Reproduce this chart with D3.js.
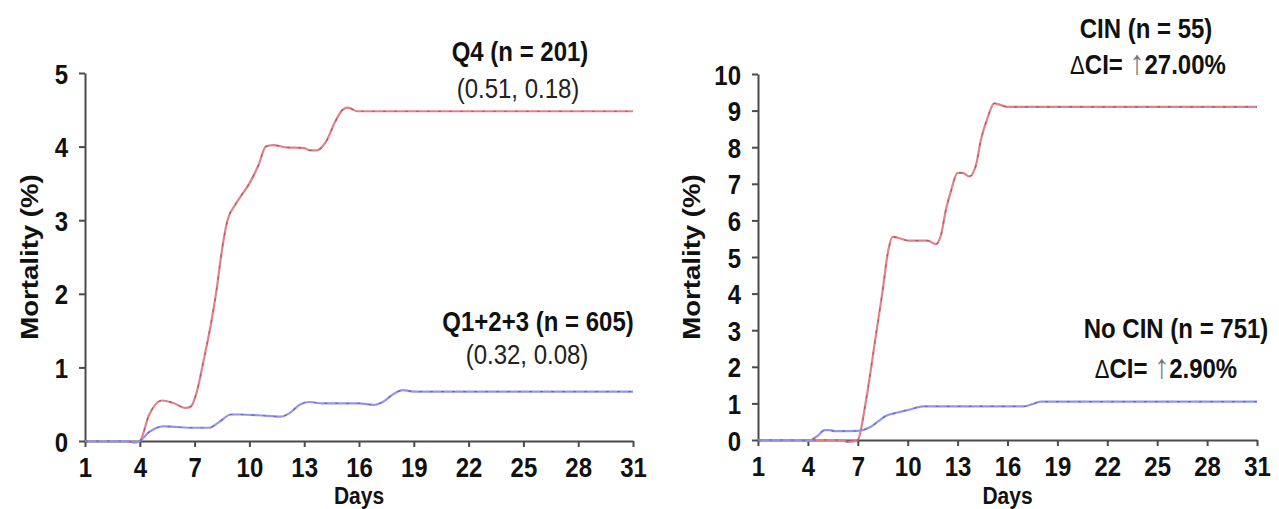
<!DOCTYPE html>
<html>
<head>
<meta charset="utf-8">
<script src="https://cdn.jsdelivr.net/npm/d3@7"></script>
<style>
  body { margin: 0; background: #fff; }
  svg { display: block; font-family: "Liberation Sans", Arial, sans-serif; }
</style>
</head>
<body>
<div id="container"></div>
<script>
// day ticks shared by both panels
const dayTicks = [1, 4, 7, 10, 13, 16, 19, 22, 25, 28, 31];

// left panel: Q4 vs Q1+2+3, points as [day, mortality %]
const q4Series = [
  [1, 0], [3.2, 0], [3.7, -0.02], [4.0, 0], [4.5, 0.35], [5.2, 0.55], [5.8, 0.52],
  [6.5, 0.45], [6.8, 0.47], [7.1, 0.65], [7.5, 1.1], [7.9, 1.6], [8.2, 2.05],
  [8.5, 2.6], [8.8, 3.0], [9.2, 3.2], [9.6, 3.35], [10.0, 3.5], [10.5, 3.75],
  [10.9, 4.0], [11.3, 4.02], [12.0, 3.99], [13.0, 3.98], [13.3, 3.95], [13.7, 3.95],
  [14.2, 4.07], [14.7, 4.34], [15.1, 4.5], [15.4, 4.53], [15.9, 4.48], [17, 4.48], [31, 4.48]
];
const q123Series = [
  [1, 0], [3.3, 0], [3.7, -0.02], [4.0, 0], [4.5, 0.12], [5.3, 0.2], [6.0, 0.19],
  [7.0, 0.18], [7.8, 0.18], [8.3, 0.25], [9.0, 0.36], [9.5, 0.36], [10.5, 0.35],
  [11.7, 0.33], [12.2, 0.38], [12.8, 0.5], [13.3, 0.53], [14.0, 0.51], [16.0, 0.51],
  [16.8, 0.49], [17.3, 0.53], [17.9, 0.64], [18.4, 0.69], [19.0, 0.67], [31, 0.67]
];
const leftYTicks = [0, 1, 2, 3, 4, 5];

// right panel: CIN vs No CIN
const cinSeries = [
  [1, 0], [6.0, 0], [6.4, -0.05], [6.8, -0.04], [7.0, 0], [7.5, 1.1], [8.1, 2.9],
  [8.5, 4.1], [8.8, 5.1], [9.1, 5.55], [9.6, 5.5], [10.0, 5.45], [11.2, 5.45],
  [11.7, 5.35], [12.0, 5.6], [12.3, 6.3], [12.6, 6.8], [13.0, 7.3], [13.3, 7.3],
  [13.7, 7.2], [14.1, 7.5], [14.4, 8.2], [14.8, 8.8], [15.2, 9.2], [15.6, 9.15],
  [16.0, 9.1], [17, 9.1], [31, 9.1]
];
const noCinSeries = [
  [1, 0], [3.6, 0], [3.9, -0.03], [4.2, 0], [4.6, 0.12], [5.0, 0.27], [5.3, 0.27],
  [5.6, 0.24], [7.0, 0.25], [7.7, 0.34], [8.2, 0.5], [8.7, 0.66], [9.4, 0.75],
  [10.2, 0.84], [10.9, 0.92], [12, 0.92], [17.0, 0.92], [17.5, 0.98], [18.0, 1.05],
  [19, 1.05], [31, 1.05]
];
const rightYTicks = [0, 1, 2, 3, 4, 5, 6, 7, 8, 9, 10];

const W = 1279, H = 509;
const STRETCH = 1.15; // the source figure is squeezed a bit, text looks taller than wide
const RED = "#e3808c", BLUE = "#9494ee", AXIS = "#4a4a4a", INK = "#111";

const svg = d3.select("#container")
  .append("svg")
  .attr("width", W)
  .attr("height", H);

// text helper, stretched vertically like in the reference
function label(g, x, y, txt, opts = {}) {
  const t = g.append("text")
    .attr("transform", `translate(${x},${y}) scale(1,${STRETCH})` + (opts.rotate ? ` rotate(${opts.rotate})` : ""))
    .attr("text-anchor", opts.anchor || "middle")
    .attr("font-size", opts.size || 24)
    .attr("font-weight", opts.weight || "bold")
    .attr("fill", opts.fill || INK);
  if (txt !== null) t.text(txt);
  return t;
}

function drawPanel(p) {
  const x = d3.scaleLinear().domain([1, 31]).range([p.x0, p.x1]);
  const y = d3.scaleLinear().domain([0, p.yMax]).range([p.y0, p.y1]);
  const g = svg.append("g");

  // x axis
  const xAxis = g.append("g")
    .attr("transform", `translate(0,${p.y0})`)
    .call(d3.axisBottom(x).tickValues(dayTicks).tickSize(6).tickSizeOuter(0).tickFormat(d3.format("d")));
  // y axis
  const yAxis = g.append("g")
    .attr("transform", `translate(${p.x0},0)`)
    .call(d3.axisLeft(y).tickValues(p.yTicks).tickSize(6).tickSizeOuter(0).tickFormat(d3.format("d")));

  [xAxis, yAxis].forEach(a => {
    a.select(".domain").attr("stroke", AXIS).attr("stroke-width", 2);
    a.selectAll(".tick line").attr("stroke", AXIS).attr("stroke-width", 2);
    a.selectAll(".tick text")
      .attr("font-size", 24)
      .attr("font-weight", "bold")
      .attr("font-family", "Liberation Sans, Arial, sans-serif")
      .attr("fill", INK)
      .attr("dy", null);
  });
  xAxis.selectAll(".tick text")
    .attr("y", null)
    .attr("transform", `translate(0,36) scale(1,${STRETCH})`);
  yAxis.selectAll(".tick text")
    .attr("x", null)
    .attr("text-anchor", "end")
    .attr("transform", `translate(-17,10) scale(1,${STRETCH})`);

  // lines
  const line = d3.line()
    .x(d => x(d[0]))
    .y(d => y(d[1]))
    .curve(d3.curveMonotoneX);

  p.series.forEach(s => {
    g.append("path")
      .datum(s.data)
      .attr("d", line)
      .attr("fill", "none")
      .attr("stroke", s.color)
      .attr("stroke-width", 2.2);
    // the faint dark dashes that ride on the scanned curves
    g.append("path")
      .datum(s.data)
      .attr("d", line)
      .attr("fill", "none")
      .attr("stroke", "#222")
      .attr("stroke-width", 1.2)
      .attr("stroke-opacity", 0.35)
      .attr("stroke-dasharray", "3,8");
  });

  // axis titles
  label(g, (p.x0 + p.x1) / 2, 504, "Days", { size: 21 });
  label(g, p.titleX, (p.y0 + p.y1) / 2, "Mortality (%)", { rotate: -90 }).attr("dy", "0.35em");

  // annotations
  p.notes.forEach(n => {
    if (n.delta) {
      const t = label(g, n.x, n.y + 10, null, { weight: "bold" });
      t.append("tspan").attr("font-weight", "normal").attr("font-size", 22).text("\u0394");
      t.append("tspan").text("CI= ");
      t.append("tspan").attr("font-weight", "normal").attr("font-size", 30)
        .attr("fill", "#777").text("\u2191");
      t.append("tspan").text(n.delta);
    } else {
      label(g, n.x, n.y + 10, n.text, { weight: n.bold ? "bold" : "normal", fill: n.bold ? INK : "#222" });
    }
  });
}

drawPanel({
  x0: 85, x1: 633, y0: 441, y1: 73, yMax: 5, yTicks: leftYTicks, titleX: 30,
  series: [
    { data: q4Series, color: RED },
    { data: q123Series, color: BLUE }
  ],
  notes: [
    { x: 520, y: 51, text: "Q4 (n = 201)", bold: true },
    { x: 518, y: 88, text: "(0.51, 0.18)" },
    { x: 538, y: 321, text: "Q1+2+3 (n = 605)", bold: true },
    { x: 527, y: 354, text: "(0.32, 0.08)" }
  ]
});

drawPanel({
  x0: 758, x1: 1257, y0: 440, y1: 74, yMax: 10, yTicks: rightYTicks, titleX: 692,
  series: [
    { data: cinSeries, color: RED },
    { data: noCinSeries, color: BLUE }
  ],
  notes: [
    { x: 1146, y: 28, text: "CIN (n = 55)", bold: true },
    { x: 1148, y: 64, delta: "27.00%" },
    { x: 1176, y: 328, text: "No CIN (n = 751)", bold: true },
    { x: 1166, y: 368, delta: "2.90%" }
  ]
});
</script>
</body>
</html>
